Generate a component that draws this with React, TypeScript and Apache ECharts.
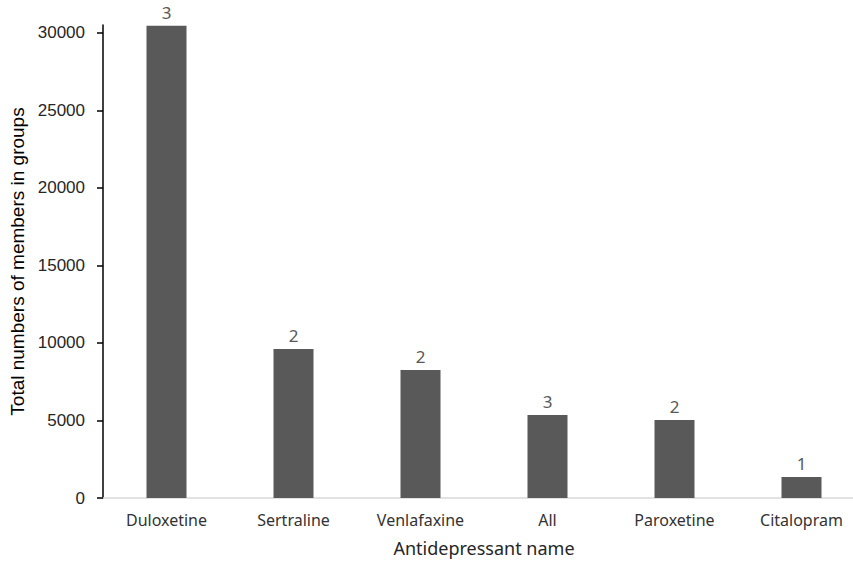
import React, { useEffect, useRef } from "react";
import * as echarts from "echarts";

const categories = ["Duloxetine", "Sertraline", "Venlafaxine", "All", "Paroxetine", "Citalopram"];
const members = [30450, 9600, 8250, 5350, 5030, 1350];
const groupCounts = [3, 2, 2, 3, 2, 1];
const yTicks = [0, 5000, 10000, 15000, 20000, 25000, 30000];

export default function App() {
  const ref = useRef<HTMLDivElement>(null);
  useEffect(() => {
    if (!ref.current) return;
    const chart = echarts.init(ref.current, null, { renderer: "svg" });
    chart.setOption({
      animation: false,
      backgroundColor: "#ffffff",
      grid: { left: 103, right: -12, top: 25, bottom: 66, containLabel: false, outerBoundsMode: "none" },
      xAxis: {
        type: "category",
        data: categories,
        name: "Antidepressant name",
        nameLocation: "middle",
        nameGap: 41,
        nameTextStyle: { fontFamily: "Noto Sans", fontSize: 18, color: "#262626" },
        axisLine: { show: true, lineStyle: { color: "#d9d9d9", width: 1.5 } },
        axisTick: { show: false },
        axisLabel: { fontFamily: "Noto Sans", fontSize: 16, color: "#333333", margin: 14 },
        splitLine: { show: false },
      },
      yAxis: {
        type: "value",
        min: 0,
        max: 30500,
        interval: 5000,
        name: "Total numbers of members in groups",
        nameLocation: "middle",
        nameGap: 73,
        nameTextStyle: { fontFamily: "Liberation Sans", fontSize: 19, color: "#000000" },
        axisLine: { show: true, lineStyle: { color: "#000000", width: 1.5 } },
        axisTick: { show: true, inside: false, length: 6, customValues: yTicks, lineStyle: { color: "#000000", width: 1.5 } },
        axisLabel: {
          fontFamily: "Liberation Sans",
          fontSize: 17,
          color: "#262626",
          margin: 18,
          customValues: yTicks,
          formatter: (v: number) => String(v),
        },
        splitLine: { show: false },
      },
      series: [
        {
          type: "bar",
          data: members,
          barWidth: 40,
          itemStyle: { color: "#595959" },
          label: {
            show: true,
            position: "top",
            distance: 5,
            fontFamily: "Noto Sans",
            fontSize: 17,
            color: "#595959",
            formatter: (p: any) => String(groupCounts[p.dataIndex]),
          },
        },
      ],
    });
    return () => chart.dispose();
  }, []);
  return <div ref={ref} style={{ position: "fixed", left: 0, top: 0, width: 853, height: 564 }} />;
}
